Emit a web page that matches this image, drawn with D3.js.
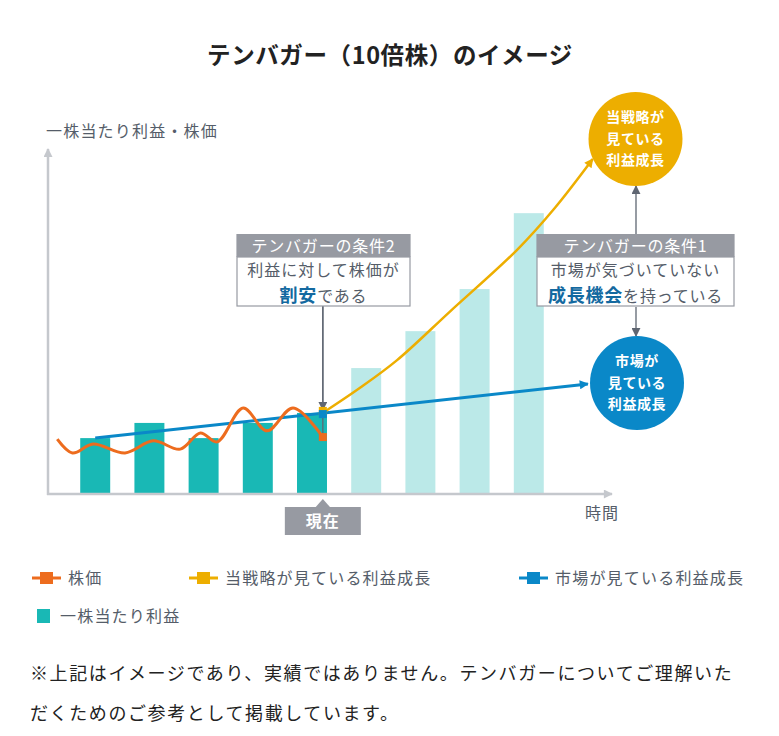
<!DOCTYPE html>
<html><head><meta charset="utf-8">
<script src="https://cdn.jsdelivr.net/npm/d3@7"></script>
<style>
html,body{margin:0;padding:0;background:#fff;}
svg text{font-family:"Noto Sans CJK JP","Noto Sans",sans-serif;}
</style>
</head><body>
<svg id="chart" width="779" height="736"></svg>
<script>
// ---------- data ----------
const periods = ["p1","p2","p3","p4","p5","p6","p7","p8","p9"];
const eps = [16.2, 20.6, 16.2, 20.6, 23.5, 36.5, 47.2, 59.4, 81.4];
const currentIndex = 4;                       // 現在
const priceT = [-0.70,-0.42,-0.04,0.55,1.07,1.57,1.94,2.25,2.73,3.17,3.65,4.2];
const priceV = [15.9, 11.9, 14.5, 11.9, 15.4, 13.0, 17.7, 15.1, 24.9, 18.3, 24.9, 16.5];
const strategyT = [4.2, 4.88, 5.57, 6.54, 7.78, 8.48, 9.18];
const strategyV = [23.5, 30.7, 38.8, 52.8, 70.7, 82.9, 97.1];
const marketT = [0, 9.09];
const marketV = [16.2, 31.9];
const legendLabels = ["株価","当戦略が見ている利益成長","市場が見ている利益成長","一株当たり利益"];

// ---------- styles ----------
const C = {orange:"#ed6c1e", yellow:"#edae00", blue:"#0a88c8", teal:"#19b8b5", tealLight:"#bbe9e8",
  grey:"#979aa2", axis:"#c5c8cd", text:"#555d69", dark:"#222", emph:"#1369a0"};

const svg = d3.select("#chart");
const defs = svg.append("defs");
function marker(id, color, w, h){
  defs.append("marker").attr("id",id).attr("viewBox","0 0 10 10").attr("refX",9).attr("refY",5)
    .attr("markerUnits","userSpaceOnUse").attr("markerWidth",w).attr("markerHeight",h).attr("orient","auto")
    .append("path").attr("d","M0,0L10,5L0,10z").attr("fill",color);
}
marker("arrY", C.yellow, 11, 9);
marker("arrB", C.blue, 11, 9);
marker("arrG", "#5f6672", 9, 9);
marker("arrAx", C.axis, 10, 9);

// ---------- scales ----------
const x = d3.scaleBand().domain(periods).range([56, 568]).paddingInner(0.447).paddingOuter(0.447);
const xt = d3.scaleLinear().domain([0, periods.length-1])
  .range([x(periods[0]) + x.bandwidth()/2, x(periods[periods.length-1]) + x.bandwidth()/2]);
const y = d3.scaleLinear().domain([0, 100]).range([494, 149]);

// ---------- title ----------
svg.append("text").attr("x", 390).attr("y", 64).attr("text-anchor","middle")
  .attr("font-size", 23.5).attr("font-weight","bold").attr("fill", C.dark).attr("letter-spacing", 0.6)
  .text("テンバガー（10倍株）のイメージ");

// ---------- bars ----------
svg.append("g").selectAll("rect").data(eps).join("rect")
  .attr("x", (d,i)=>x(periods[i])).attr("width", x.bandwidth())
  .attr("y", d=>y(d)).attr("height", d=>y(0)-y(d))
  .attr("fill", (d,i)=> i<=currentIndex ? C.teal : C.tealLight);

// ---------- axes ----------
svg.append("line").attr("x1",48).attr("y1",y(0)+1).attr("x2",48).attr("y2",y(100))
  .attr("stroke",C.axis).attr("stroke-width",2.5).attr("marker-end","url(#arrAx)");
svg.append("line").attr("x1",47).attr("y1",y(0)).attr("x2",612).attr("y2",y(0))
  .attr("stroke",C.axis).attr("stroke-width",2.5).attr("marker-end","url(#arrAx)");
svg.append("text").attr("x",46).attr("y",137).attr("font-size",16).attr("letter-spacing",1.2)
  .attr("fill",C.text).text("一株当たり利益・株価");
svg.append("text").attr("x",585).attr("y",519).attr("font-size",16).attr("letter-spacing",1)
  .attr("fill",C.text).text("時間");

// ---------- lines ----------
const nowX = xt(priceT[priceT.length-1]);
const marketNow = marketV[0] + (marketV[1]-marketV[0]) * priceT[priceT.length-1] / marketT[1];
// pointer from condition 2 box
svg.append("line").attr("x1",nowX).attr("y1",306).attr("x2",nowX).attr("y2",y(priceV[priceV.length-1]))
  .attr("stroke","#5f6672").attr("stroke-width",1.3);
svg.append("line").attr("x1",nowX).attr("y1",306).attr("x2",nowX).attr("y2",y(strategyV[0])-3)
  .attr("stroke","#5f6672").attr("stroke-width",1.3).attr("marker-end","url(#arrG)");

const line = d3.line().x(d=>xt(d[0])).y(d=>y(d[1]));
svg.append("path").datum(marketT.map((t,i)=>[t, marketV[i]]))
  .attr("d", line).attr("fill","none").attr("stroke",C.blue).attr("stroke-width",3)
  .attr("marker-end","url(#arrB)");
svg.append("path").datum(strategyT.map((t,i)=>[t, strategyV[i]]))
  .attr("d", line.curve(d3.curveCatmullRom.alpha(0.5))).attr("fill","none").attr("stroke",C.yellow)
  .attr("stroke-width",2.5).attr("marker-end","url(#arrY)");
svg.append("path").datum(priceT.map((t,i)=>[t, priceV[i]]))
  .attr("d", d3.line().x(d=>xt(d[0])).y(d=>y(d[1])).curve(d3.curveCatmullRom.alpha(0.5)))
  .attr("fill","none").attr("stroke",C.orange).attr("stroke-width",3);

// small squares at 現在
const sq = 8;
svg.append("rect").attr("x",nowX-sq/2).attr("y",y(strategyV[0])-sq/2-2).attr("width",sq).attr("height",sq).attr("fill",C.yellow);
svg.append("rect").attr("x",nowX-sq/2).attr("y",y(marketNow)-sq/2+1).attr("width",sq).attr("height",sq).attr("fill",C.blue);
svg.append("rect").attr("x",nowX-sq/2).attr("y",y(priceV[priceV.length-1])-sq/2).attr("width",sq).attr("height",sq).attr("fill",C.orange);

// ---------- 現在 label ----------
svg.append("path").attr("d",`M${nowX-8},508L${nowX},499L${nowX+8},508z`).attr("fill",C.grey);
svg.append("rect").attr("x",nowX-38).attr("y",507).attr("width",76).attr("height",28).attr("fill",C.grey);
svg.append("text").attr("x",nowX).attr("y",527).attr("text-anchor","middle").attr("font-size",16)
  .attr("font-weight","bold").attr("fill","#fff").attr("letter-spacing",1).text("現在");

// ---------- condition boxes ----------
function condBox(bx, bw, header, l1, l2parts){
  svg.append("rect").attr("x",bx).attr("y",257).attr("width",bw).attr("height",49)
    .attr("fill","#fff").attr("stroke",C.grey).attr("stroke-width",1.2);
  svg.append("rect").attr("x",bx-0.6).attr("y",234).attr("width",bw+1.2).attr("height",23).attr("fill",C.grey);
  const cx = bx + bw/2;
  svg.append("text").attr("x",cx).attr("y",251.5).attr("text-anchor","middle").attr("font-size",16)
    .attr("letter-spacing",0.8).attr("fill","#fff").text(header);
  svg.append("text").attr("x",cx).attr("y",276).attr("text-anchor","middle").attr("font-size",16)
    .attr("letter-spacing",1).attr("fill",C.text).text(l1);
  const t = svg.append("text").attr("x",cx).attr("y",302).attr("text-anchor","middle").attr("fill",C.text)
    .attr("letter-spacing",0.8);
  l2parts.forEach(p=>{
    t.append("tspan").attr("font-size", p.b?18:16).attr("font-weight", p.b?"bold":"normal")
      .attr("fill", p.b?C.emph:C.text).text(p.t);
  });
}
condBox(237, 173, "テンバガーの条件2", "利益に対して株価が", [{t:"割安",b:true},{t:"である",b:false}]);
condBox(537, 197, "テンバガーの条件1", "市場が気づいていない", [{t:"成長機会",b:true},{t:"を持っている",b:false}]);

// arrows from condition 1 to circles
svg.append("line").attr("x1",636).attr("y1",234).attr("x2",636).attr("y2",186)
  .attr("stroke","#5f6672").attr("stroke-width",1.3).attr("marker-end","url(#arrG)");
svg.append("line").attr("x1",636).attr("y1",307).attr("x2",636).attr("y2",336)
  .attr("stroke","#5f6672").attr("stroke-width",1.3).attr("marker-end","url(#arrG)");

// ---------- circles ----------
function bubble(cx, cy, color, lines){
  svg.append("circle").attr("cx",cx).attr("cy",cy).attr("r",47).attr("fill",color);
  lines.forEach((l,i)=>{
    svg.append("text").attr("x",cx).attr("y",cy-17+i*21.5).attr("text-anchor","middle")
      .attr("font-size",14).attr("font-weight","bold").attr("letter-spacing",0.6).attr("fill","#fff").text(l);
  });
}
bubble(635.5, 139, C.yellow, ["当戦略が","見ている","利益成長"]);
bubble(637, 383, C.blue, ["市場が","見ている","利益成長"]);

// ---------- legend ----------
const lg = svg.append("g");
const legendItems = [
  {x:32, y:578, color:C.orange, type:"line"},
  {x:189, y:578, color:C.yellow, type:"line"},
  {x:519, y:578, color:C.blue, type:"line"},
  {x:37, y:616, color:C.teal, type:"rect"}
];
legendItems.forEach((it,i)=>{
  let tx;
  if(it.type==="line"){
    lg.append("line").attr("x1",it.x).attr("x2",it.x+29).attr("y1",it.y).attr("y2",it.y)
      .attr("stroke",it.color).attr("stroke-width",3);
    lg.append("rect").attr("x",it.x+8).attr("y",it.y-6).attr("width",13).attr("height",12).attr("fill",it.color);
    tx = it.x+36;
  } else {
    lg.append("rect").attr("x",it.x).attr("y",it.y-7).attr("width",13).attr("height",14).attr("fill",it.color);
    tx = it.x+23;
  }
  lg.append("text").attr("x",tx).attr("y",it.y+6).attr("font-size",16).attr("letter-spacing",1.2)
    .attr("fill",C.text).text(legendLabels[i]);
});

// ---------- note ----------
svg.append("text").attr("x",30).attr("y",680).attr("font-size",18).attr("letter-spacing",1.6).attr("fill",C.dark)
  .text("※上記はイメージであり、実績ではありません。テンバガーについてご理解いた");
svg.append("text").attr("x",30).attr("y",720).attr("font-size",18).attr("letter-spacing",1.6).attr("fill",C.dark)
  .text("だくためのご参考として掲載しています。");
</script>
</body></html>
